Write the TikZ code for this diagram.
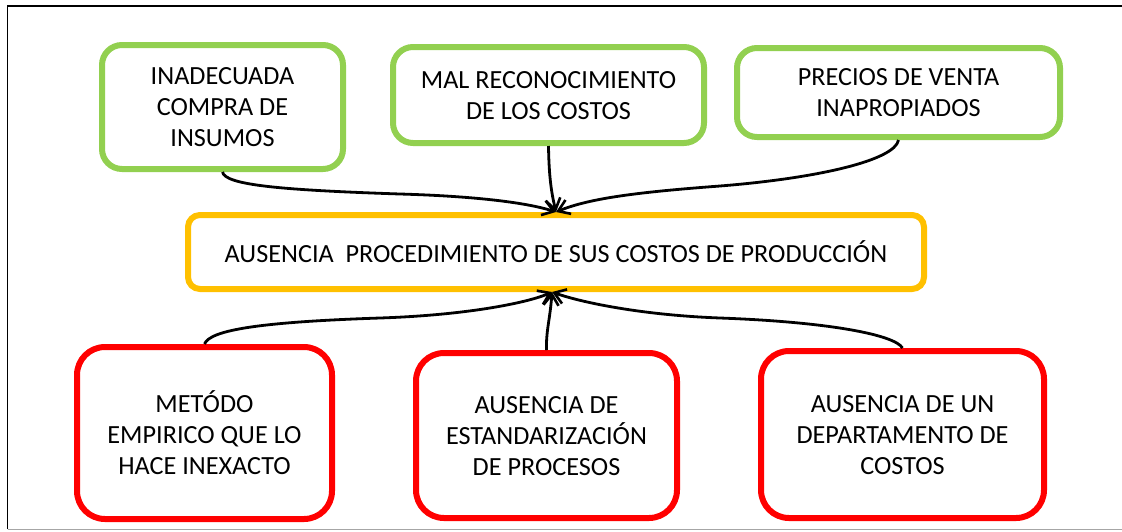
\documentclass[tikz,border=0pt]{standalone}
\usepackage{fontspec}
\setmainfont{Carlito}
\usetikzlibrary{arrows.meta}
\definecolor{cgreen}{HTML}{92D050}
\definecolor{cyellow}{HTML}{FFC000}
\definecolor{cred}{HTML}{FF0000}
\tikzset{
  box/.style={draw, line width=6pt, fill=white, align=center, inner sep=0pt,
    text depth=0pt, font=\fontsize{26.2}{31}\selectfont},
  cause/.style={box, draw=cgreen, rounded corners=20pt},
  core/.style={box, draw=cyellow, rounded corners=12pt},
  effect/.style={box, draw=cred, rounded corners=28pt},
  conn/.style={line width=2.8pt, -{Straight Barb[length=11pt,width=15pt,line width=2.6pt]}},
}
\begin{document}
\begin{tikzpicture}[x=1pt,y=-1pt]
\useasboundingbox (0,0) rectangle (1122,531);
\draw[line width=1.5pt] (7.5,529) -- (7.5,6) -- (1122,6);
\draw[line width=1.2pt, gray!70] (7.5,529.5) -- (1122,529.5);

\node[cause, minimum width=241pt, minimum height=124pt] (b1) at (222.5,107) {INADECUADA\\COMPRA DE\\INSUMOS};
\node[cause, minimum width=311pt, minimum height=96pt] (b2) at (548.5,95) {MAL RECONOCIMIENTO\\DE LOS COSTOS};
\node[cause, minimum width=323pt, minimum height=89pt] (b3) at (898.5,92.5) {PRECIOS DE VENTA\\INAPROPIADOS};

\node[core, minimum width=736pt, minimum height=74pt] (c) at (556,252) {AUSENCIA\ \ PROCEDIMIENTO DE SUS COSTOS DE PRODUCCIÓN};

\node[effect, minimum width=255pt, minimum height=172pt] (r1) at (204.5,433) {METÓDO\\EMPIRICO QUE LO\\HACE INEXACTO};
\node[effect, minimum width=261pt, minimum height=165pt] (r2) at (546.5,435.5) {AUSENCIA DE\\ESTANDARIZACIÓN\\DE PROCESOS};
\node[effect, minimum width=283pt, minimum height=167pt] (r3) at (902.5,434.5) {AUSENCIA DE UN\\DEPARTAMENTO DE\\COSTOS};

\coordinate (tt) at (556,212);
\coordinate (bt) at (552,292);

\draw[conn] (b1.south) .. controls (225,185) and (280,190) .. (400,194) .. controls (470,196) and (525,202) .. (tt);
\draw[conn] (b2.south) .. controls (549,180) and (552,195) .. (tt);
\draw[conn] (b3.south) .. controls (895,160) and (820,178) .. (720,186) .. controls (640,192) and (590,198) .. (tt);

\draw[conn] (r1.north) .. controls (210,330) and (260,322) .. (380,318) .. controls (470,315) and (530,302) .. (bt);
\draw[conn] (r2.north) .. controls (546,330) and (550,320) .. (bt);
\draw[conn] (r3.north) .. controls (895,335) and (830,322) .. (720,318) .. controls (640,315) and (580,302) .. (bt);
\end{tikzpicture}
\end{document}
